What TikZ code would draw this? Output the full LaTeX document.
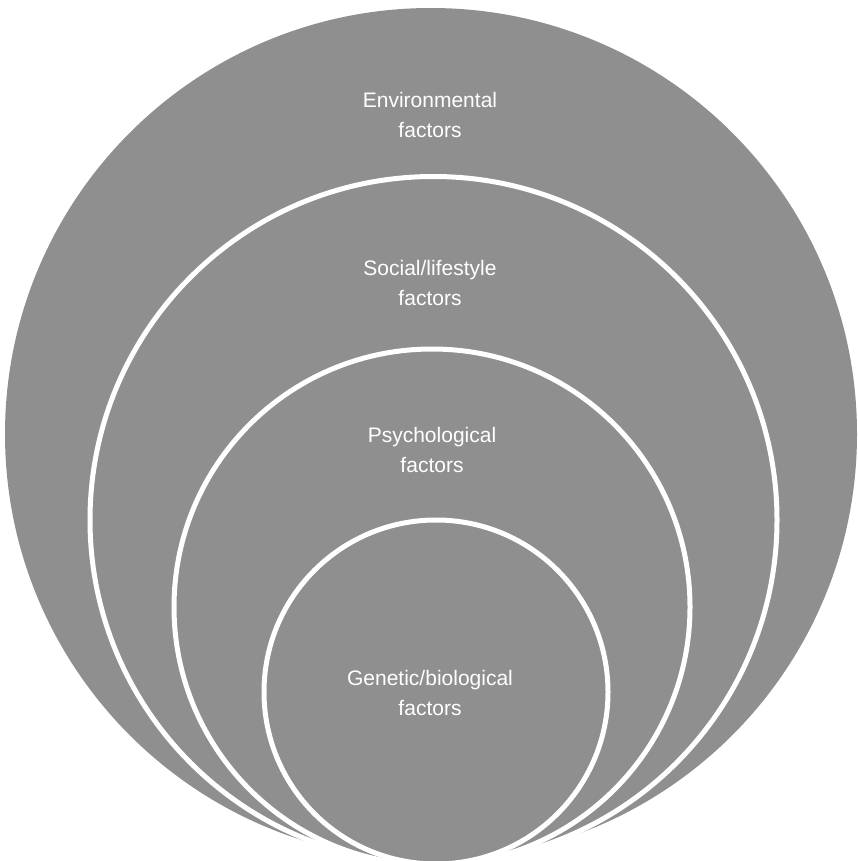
\documentclass[tikz,border=0pt]{standalone}
\usepackage{fontspec}
\setmainfont{Liberation Sans}
\definecolor{ringgray}{RGB}{143,143,143}
\begin{document}
\begin{tikzpicture}[x=1pt,y=-1pt,
  ring/.style={circle,fill=ringgray,draw=white,line width=5pt,inner sep=0pt,minimum size=#1},
  label/.style={text=white,align=center,font=\fontsize{21}{30}\selectfont,inner sep=0pt}]
\useasboundingbox (0,0) rectangle (858,861);
\begin{scope}
\clip (0,0) rectangle (858,861);
\node[ring=852pt,draw=none] (env) at (431,434) {};
\node[ring=687pt] (soc) at (433.5,520) {};
\node[ring=516pt] (psy) at (432,607) {};
\node[ring=344pt] (gen) at (436,692) {};
\end{scope}
\node[label] (envt) at (430,115) {Environmental\\factors};
\node[label] (soct) at (430,283) {Social/lifestyle\\factors};
\node[label] (psyt) at (432,450) {Psychological\\factors};
\node[label] (gent) at (430,693) {Genetic/biological\\factors};
\end{tikzpicture}
\end{document}
